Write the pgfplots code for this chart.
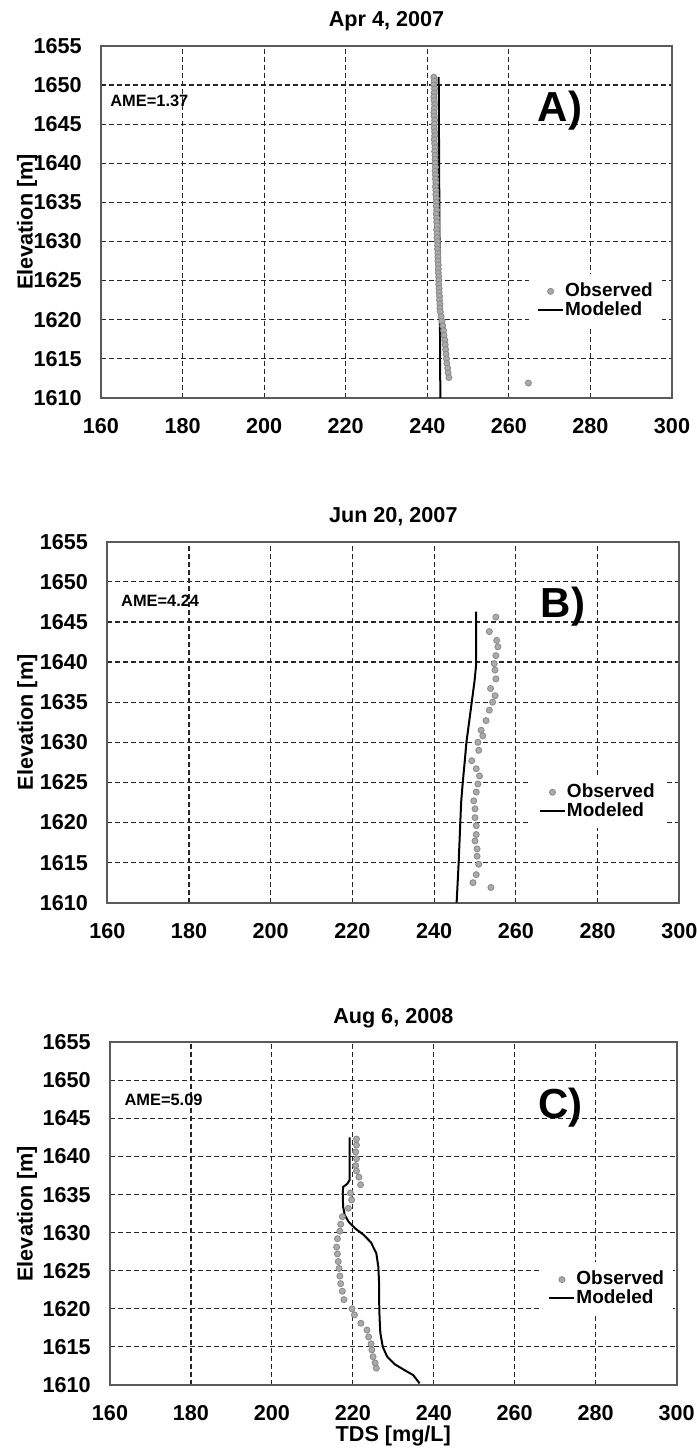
\documentclass[border=0pt]{standalone}
\usepackage{fontspec}
\setmainfont{Liberation Sans}
\usepackage{pgfplots}
\pgfplotsset{compat=1.18}
\definecolor{obsfill}{HTML}{ABABAB}
\definecolor{obsdraw}{HTML}{8C8C8C}
\definecolor{frame}{HTML}{5A5A5A}

\newcommand{\lblfont}{\fontsize{10.8}{12}\selectfont\bfseries}

\pgfplotsset{
  panel/.style={
    scale only axis, xmin=160, xmax=300, ymin=1610, ymax=1655,
    xtick={160,180,...,300}, ytick={1610,1615,...,1655},
    major tick length=0pt,
    grid=major,
    major grid style={black!85, line width=0.6pt, dash pattern=on 2.4pt off 1.6pt},
    axis line style={frame, line width=0.9pt},
    tick label style={font=\lblfont},
    /pgf/number format/assume math mode=true,
    /pgf/number format/1000 sep={},
    yticklabel style={inner sep=0pt, xshift=-9.5pt},
    xticklabel style={inner sep=0pt, yshift=-10.3pt},
    every axis title shift=0pt,
    title style={at={(0.5,1)}, anchor=base, inner sep=0pt, yshift=9.5pt, font=\lblfont},
    ylabel={Elevation [m]},
    legend cell align=left,
    legend style={draw=none, fill=white, inner sep=4pt, row sep=0pt, anchor=west,
      font=\fontsize{9.5}{10}\selectfont\bfseries, nodes={inner sep=0.5pt}},
    legend image code/.code={\draw[mark repeat=2,mark phase=2,##1]
      plot coordinates {(0pt,0pt) (6.25pt,0pt) (12.5pt,0pt)};},
  },
  ylab/.style={every axis y label/.style={at={([xshift=-#1]axis description cs:0,0.5)},
      rotate=90, anchor=center, inner sep=0pt, font=\lblfont}},
  obs/.style={only marks, mark=*, mark size=1.5pt,
    mark options={fill=obsfill, draw=obsdraw, line width=0.45pt}},
  mod/.style={black, line width=1pt, no marks},
}
\tikzset{
  note/.style={anchor=base west, inner sep=0pt, font=\fontsize{8.2}{9}\selectfont\bfseries},
  tag/.style={anchor=base west, inner sep=0pt, font=\fontsize{21}{24}\selectfont\bfseries},
}

\begin{document}
\begin{tikzpicture}
\path[use as bounding box] (0,0) rectangle (348pt,-725pt);

% A) Apr 4, 2007
\begin{axis}[panel, ylab=37pt, at={(50.5pt,-22.95pt)}, anchor=north west,
  width=285.5pt, height=176pt, title={Apr 4, 2007},
  legend style={at={(0.749,0.276)}}]
\addplot[obs] coordinates {
(241.6,1651.0) (241.7,1650.5) (241.6,1650.0) (241.8,1649.5) (241.7,1649.0)
(241.6,1648.5) (241.7,1648.0) (241.8,1647.5) (241.7,1647.0) (241.6,1646.5)
(241.7,1646.0) (241.8,1645.5) (241.7,1645.0) (241.7,1644.5) (241.8,1644.0)
(241.8,1643.5) (241.7,1643.0) (241.8,1642.5) (241.9,1642.0) (241.8,1641.5)
(241.9,1641.0) (241.9,1640.5) (241.9,1640.0) (242.0,1639.5) (241.9,1639.0)
(242.0,1638.5) (242.0,1638.0) (242.1,1637.5) (242.0,1637.0) (242.1,1636.5)
(242.1,1636.0) (242.2,1635.5) (242.2,1635.0) (242.2,1634.5) (242.3,1634.0)
(242.2,1633.5) (242.3,1633.0) (242.3,1632.5) (242.4,1632.0) (242.3,1631.5)
(242.4,1631.0) (242.4,1630.5) (242.5,1630.0) (242.5,1629.5) (242.5,1629.0)
(242.6,1628.5) (242.6,1628.0) (242.6,1627.5) (242.7,1627.0) (242.7,1626.5)
(242.7,1626.0) (242.8,1625.5) (242.8,1625.0) (242.8,1624.5) (242.9,1624.0)
(242.9,1623.5) (243.0,1623.0) (243.0,1622.5) (243.1,1622.0) (243.1,1621.5)
(243.2,1621.0) (243.4,1620.4) (243.6,1619.8) (243.8,1619.2) (244.0,1618.6)
(244.1,1618.0) (244.3,1617.4) (244.4,1616.8) (244.5,1616.2) (244.6,1615.6)
(244.7,1615.0) (244.8,1614.4) (245.0,1613.8) (245.1,1613.2) (245.3,1612.6)
(264.8,1611.9)};
\addplot[mod] coordinates {
(242.8,1651.0) (242.9,1640.0) (243.0,1630.0) (243.1,1620.0) (243.2,1610.0)};
\legend{Observed,Modeled}
\node[note] at (axis cs:162.2,1647.3) {AME=1.37};
\node[tag] at (axis cs:267,1645.3) {A)};
\end{axis}

% B) Jun 20, 2007
\begin{axis}[panel, ylab=40pt, at={(53.65pt,-270.85pt)}, anchor=north west,
  width=286pt, height=180.5pt, title={Jun 20, 2007},
  legend style={at={(0.740,0.28)}}]
\addplot[obs] coordinates {
(255.1,1645.6) (253.5,1643.8) (255.3,1642.7) (255.6,1641.9) (255.1,1640.8)
(254.7,1639.8) (254.9,1639.0) (255.1,1637.9) (253.8,1636.7) (254.9,1635.8)
(254.3,1635.0) (253.5,1634.0) (252.7,1632.7) (251.5,1631.5) (251.9,1630.8)
(250.7,1630.0) (250.9,1629.0) (249.2,1627.7) (250.3,1626.7) (251.1,1625.8)
(250.7,1624.8) (250.3,1623.8) (249.7,1622.7) (250.0,1621.7) (250.0,1620.6)
(250.3,1619.6) (250.3,1618.5) (250.0,1617.7) (250.5,1616.7) (250.5,1615.8)
(250.9,1614.8) (250.3,1613.5) (249.5,1612.5) (253.9,1611.9)};
\addplot[mod] coordinates {
(250.3,1646.3) (250.3,1639.8) (249.9,1637.7) (249.2,1635.0) (248.5,1632.3)
(247.9,1630.0) (247.5,1627.7) (247.0,1625.0) (246.6,1622.5) (246.4,1620.0)
(246.0,1615.0) (245.5,1610.0)};
\legend{Observed,Modeled}
\node[note] at (axis cs:163.3,1646.9) {AME=4.24};
\node[tag] at (axis cs:266,1645.6) {B)};
\end{axis}

% C) Aug 6, 2008
\begin{axis}[panel, ylab=41.5pt, at={(55pt,-521.15pt)}, anchor=north west,
  width=283.3pt, height=171.3pt, title={Aug 6, 2008},
  xlabel={TDS [mg/L]},
  every axis x label/.style={at={(axis description cs:0.5,0)}, anchor=north,
    inner sep=0pt, yshift=-20.5pt, font=\lblfont},
  legend style={at={(0.759,0.28)}}]
\addplot[obs] coordinates {
(220.9,1642.3) (220.9,1641.5) (220.7,1640.6) (220.9,1639.7) (220.7,1638.8)
(220.9,1638.1) (221.5,1637.3) (221.9,1636.3) (219.4,1635.2) (219.7,1634.3)
(218.9,1633.2) (217.4,1632.1) (217.0,1631.1) (216.8,1630.2) (216.2,1629.2)
(216.0,1628.1) (216.2,1627.2) (216.4,1626.2) (216.6,1625.3) (216.8,1624.3)
(217.0,1623.3) (217.4,1622.3) (217.8,1621.2) (219.8,1620.0) (220.4,1619.2)
(222.0,1618.1) (223.5,1617.2) (223.9,1616.3) (224.5,1615.4) (224.7,1614.6)
(225.0,1613.7) (225.5,1612.9) (225.8,1612.2)};
\addplot[mod] coordinates {
(219.2,1642.5) (219.2,1636.9) (218.6,1636.4) (217.6,1636.0) (217.5,1635.1)
(217.6,1633.4) (218.0,1632.3) (219.0,1631.4) (220.7,1630.5) (222.7,1629.7)
(224.5,1628.7) (225.8,1627.3) (226.3,1625.5) (226.5,1623.3) (226.5,1621.1)
(226.6,1618.9) (226.8,1616.8) (227.4,1615.0) (228.5,1613.7) (230.4,1612.7)
(232.9,1611.9) (234.9,1611.3) (236.5,1610.2)};
\legend{Observed,Modeled}
\node[note] at (axis cs:163.5,1646.7) {AME=5.09};
\node[tag] at (axis cs:265.7,1645.0) {C)};
\end{axis}
\end{tikzpicture}
\end{document}
